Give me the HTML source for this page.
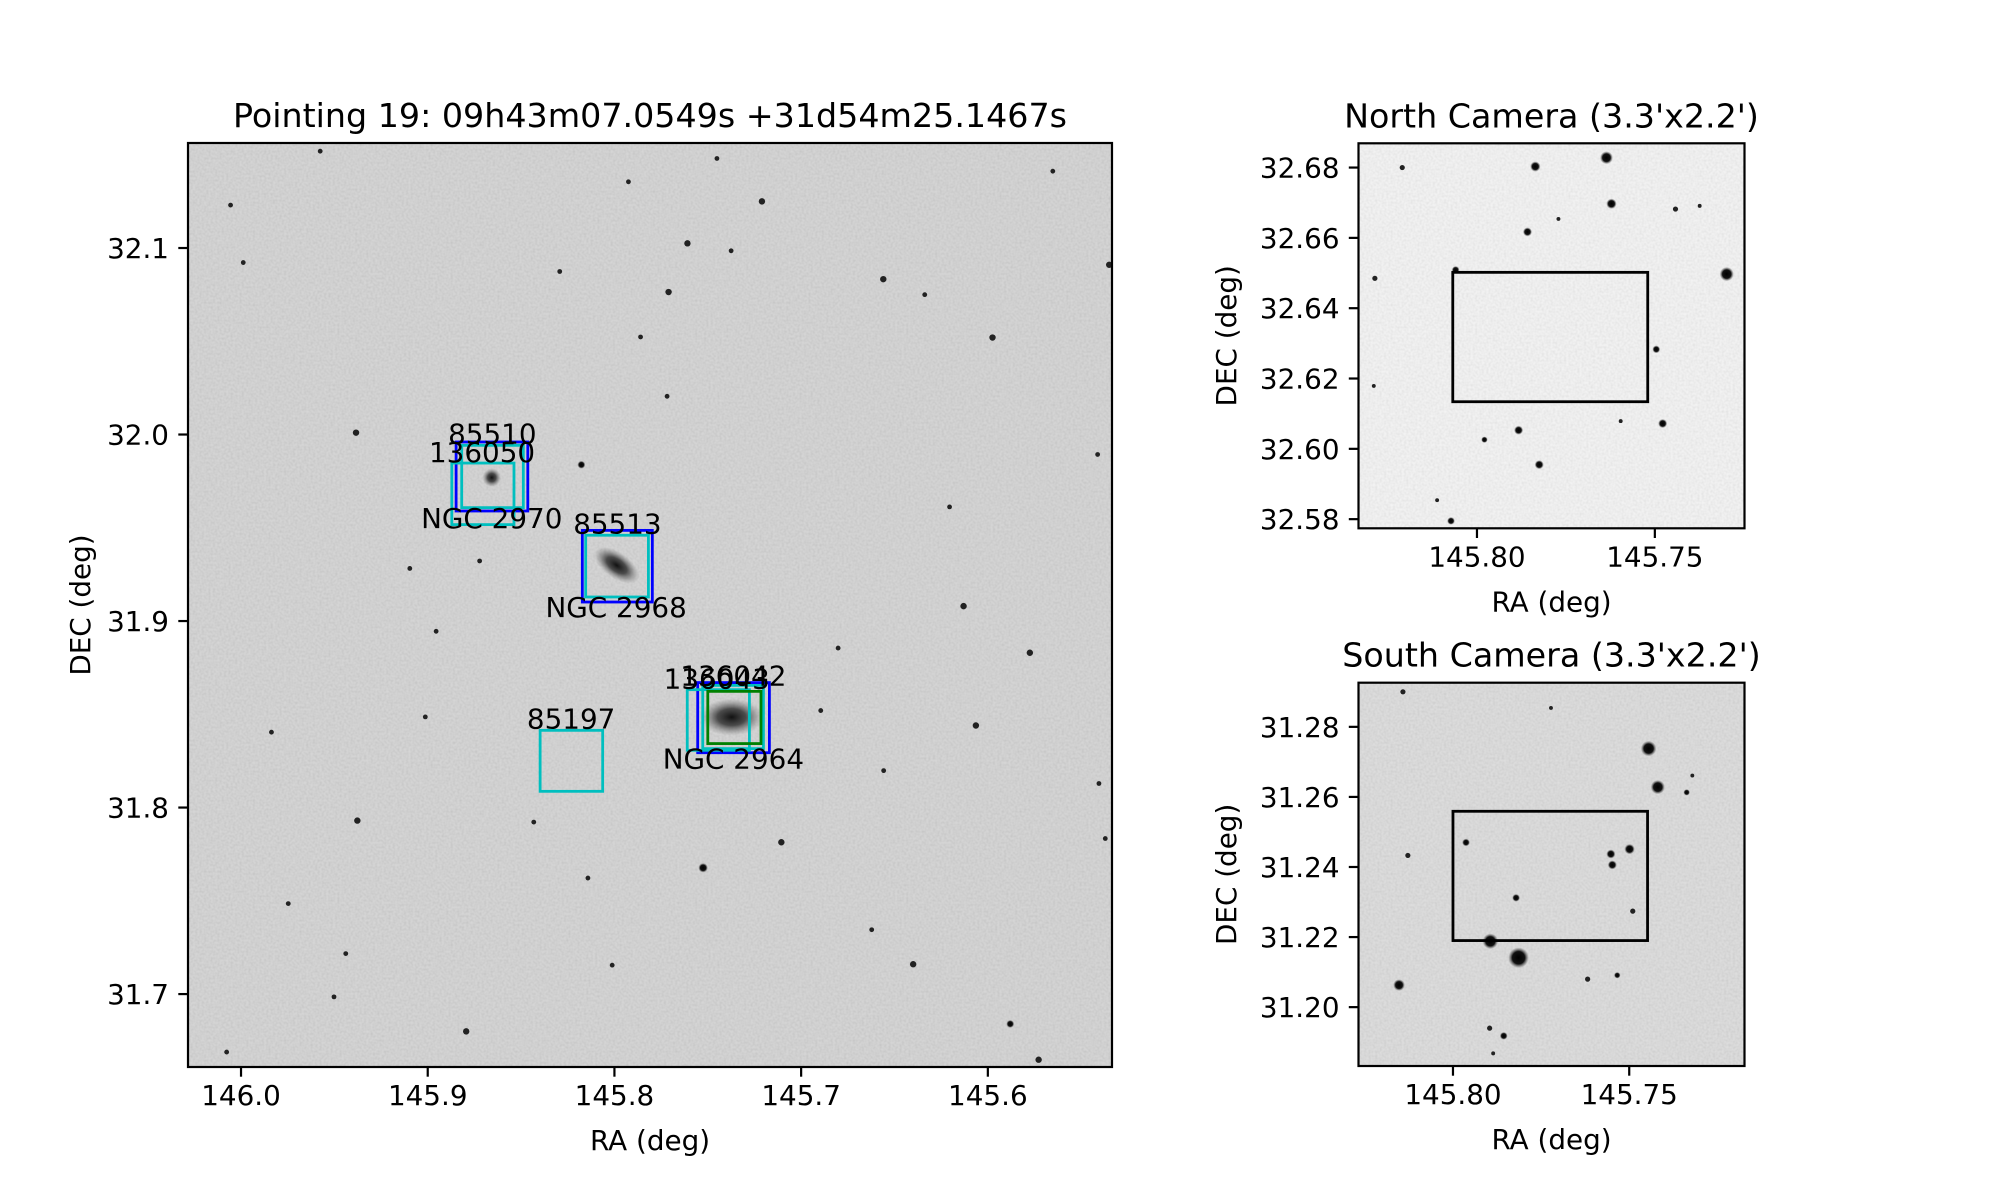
<!DOCTYPE html>
<html><head><meta charset="utf-8"><style>
html,body{margin:0;padding:0;background:#fff;}
svg{display:block;font-family:"DejaVu Sans","Liberation Sans",sans-serif;}
</style></head><body>
<svg id="fig" width="2000" height="1200" viewBox="0 0 2000 1200" xmlns="http://www.w3.org/2000/svg">
<defs>
<filter id="noise" x="0" y="0" width="100%" height="100%">
<feTurbulence type="fractalNoise" baseFrequency="0.45" numOctaves="1" seed="3"/>
<feColorMatrix type="matrix" values="1 0 0 0 0  1 0 0 0 0  1 0 0 0 0  0 0 0 0 0.14"/>
</filter>
<radialGradient id="gal"><stop offset="0" stop-color="#111" stop-opacity="1"/><stop offset="0.45" stop-color="#333" stop-opacity="0.85"/><stop offset="1" stop-color="#777" stop-opacity="0"/></radialGradient>
<radialGradient id="star"><stop offset="0" stop-color="#000"/><stop offset="0.6" stop-color="#111"/><stop offset="1" stop-color="#555" stop-opacity="0"/></radialGradient>
<clipPath id="clipMain"><rect x="188" y="143" width="929" height="924"/></clipPath>
<clipPath id="clipNorth"><rect x="1358.5" y="143.3" width="386" height="385"/></clipPath>
<clipPath id="clipSouth"><rect x="1358.5" y="682.7" width="386" height="383.3"/></clipPath>
</defs>
</svg>
<script>
// ---------- Main panel data ----------
const mainXTicks = [146.0, 145.9, 145.8, 145.7, 145.6];
const mainXTickLabels = ["146.0", "145.9", "145.8", "145.7", "145.6"];
const mainYTicks = [32.1, 32.0, 31.9, 31.8, 31.7];
const mainYTickLabels = ["32.1", "32.0", "31.9", "31.8", "31.7"];
const boxRa1 = [145.8848, 145.8871, 145.8818, 145.8172, 145.8154, 145.7554, 145.761, 145.7527, 145.75, 145.8398];
const boxRa2 = [145.8464, 145.8538, 145.8488, 145.7797, 145.7818, 145.717, 145.7277, 145.7202, 145.7215, 145.8063];
const boxDec1 = [31.996, 31.9847, 31.9942, 31.9486, 31.946, 31.867, 31.8632, 31.8655, 31.8623, 31.8414];
const boxDec2 = [31.959, 31.9517, 31.9608, 31.9102, 31.9129, 31.8294, 31.8307, 31.8316, 31.8343, 31.8087];
const boxColors = ["#0000ff", "#00bfbf", "#00bfbf", "#0000ff", "#00bfbf", "#0000ff", "#00bfbf", "#00bfbf", "#008000", "#00bfbf"];
const labelRa = [145.8654, 145.8709, 145.8657, 145.7984, 145.7991, 145.7363, 145.7452, 145.7363, 145.8232];
const labelDec = [31.9951, 31.9853, 31.95, 31.9469, 31.9022, 31.8655, 31.8638, 31.8209, 31.8423];
const labelText = ["85510", "136050", "NGC 2970", "85513", "NGC 2968", "136042", "136043", "NGC 2964", "85197"];
const galRa = [145.7988, 145.7372, 145.8657];
const galDec = [31.9299, 31.8485, 31.9769];
const galMajor = [0.014, 0.017, 0.005];
const galMinor = [0.007, 0.010, 0.005];
const galAngle = [35, 0, 0];
const mainStarRa = [145.7525,145.640,145.588,145.6064,145.613,145.535,145.8177,145.9377,145.5775,145.721,145.9384,145.8794,145.5975,145.656,145.771,145.7609,145.7106,145.5728,146.0056,145.9988,145.9576,145.9837,145.9747,145.9096,145.9013,145.8293,145.786,145.6338,145.5412,145.5371,145.5405,146.0077,145.9439,145.8142,145.6558,145.6895,145.7451,145.7375,145.7925,145.8012,145.8955,145.9502,145.6205,145.6622,145.7205,145.5652,145.8722,145.8432,145.6802,145.7718];
const mainStarDec = [31.7677,31.716,31.684,31.844,31.908,32.091,31.9838,31.793,31.883,32.125,32.001,31.68,32.052,32.0833,32.0764,32.1025,31.7814,31.6648,32.123,32.0922,32.1519,31.8404,31.7485,31.9282,31.8486,32.0874,32.0523,32.075,31.9893,31.7834,31.8129,31.6689,31.7217,31.7622,31.8198,31.852,32.148,32.0985,32.1355,31.7155,31.8945,31.6985,31.9612,31.7345,31.6425,32.1412,31.9322,31.7922,31.8855,32.0205];
const mainStarMag = [3,2,2.5,2,2,2,2.5,2,2,2,2,2,2,2,2,2,2,2,1.5,1.5,1.5,1.5,1.5,1.5,1.5,1.5,1.5,1.5,1.5,1.5,1.5,1.5,1.5,1.5,1.5,1.5,1.5,1.5,1.5,1.5,1.5,1.5,1.5,1.5,1.5,1.5,1.5,1.5,1.5,1.5];

// ---------- North camera data ----------
const northXTicks = [145.80, 145.75];
const northXTickLabels = ["145.80", "145.75"];
const northYTicks = [32.68, 32.66, 32.64, 32.62, 32.60, 32.58];
const northYTickLabels = ["32.68", "32.66", "32.64", "32.62", "32.60", "32.58"];
const northRect = [145.8068, 145.752, 32.6502, 32.6134];
const northStarRa = [145.7836,145.7636,145.7622,145.7298,145.7858,145.7883,145.7825,145.7478,145.7496,145.7979,145.821,145.8073,145.806,145.8287,145.7442,145.7374,145.7771,145.8112,145.7596,145.829];
const northStarDec = [32.6803,32.6828,32.6697,32.6497,32.6617,32.6053,32.5955,32.6072,32.6283,32.6026,32.68,32.5795,32.6509,32.6485,32.6682,32.6691,32.6654,32.5854,32.6079,32.6179];
const northStarMag = [4,5,4,5.5,3.5,3.5,3.5,3.5,3,2.5,2,3,3,2,2,1.5,1.5,1.5,1.5,1.5];

// ---------- South camera data ----------
const southXTicks = [145.80, 145.75];
const southXTickLabels = ["145.80", "145.75"];
const southYTicks = [31.28, 31.26, 31.24, 31.22, 31.20];
const southYTickLabels = ["31.28", "31.26", "31.24", "31.22", "31.20"];
const southRect = [145.80, 145.7448, 31.2559, 31.219];
const southStarRa = [145.7445,145.7419,145.7894,145.7814,145.8153,145.7963,145.7552,145.7548,145.7499,145.7821,145.7856,145.7337,145.7534,145.8142,145.8128,145.7618,145.7896,145.749,145.7722,145.7321,145.7886];
const southStarDec = [31.2738,31.2628,31.2188,31.2141,31.2063,31.247,31.2437,31.2406,31.2451,31.2312,31.1918,31.2613,31.2091,31.29,31.2433,31.208,31.194,31.2274,31.2854,31.2661,31.1868];
const southStarMag = [6,5.5,6,8,4.5,3,3.5,3.5,4,3,3,2.5,2.5,2,2,2,2,2,1.5,1.5,1.5];

const NS = "http://www.w3.org/2000/svg";
const fig = document.getElementById("fig");
function el(tag, attrs, parent, text) {
  const e = document.createElementNS(NS, tag);
  for (const k in attrs) e.setAttribute(k, attrs[k]);
  if (text !== undefined) e.textContent = text;
  (parent || fig).appendChild(e);
  return e;
}
function lin(d0, d1, p0, p1) { return v => p0 + (v - d0) * (p1 - p0) / (d1 - d0); }

function makePanel(cfg) {
  const g = el("g", {});
  
  
  const x = lin(cfg.ra0, cfg.ra1, cfg.left, cfg.right);
  const y = lin(cfg.dec0, cfg.dec1, cfg.top, cfg.bottom);
  const w = cfg.right - cfg.left, h = cfg.bottom - cfg.top;
  const bg = el("rect", {x: cfg.left, y: cfg.top, width: w, height: h, fill: cfg.bg}, g);
  
  
  el("rect", {x: cfg.left, y: cfg.top, width: w, height: h, filter: "url(#noise)"}, g);
  const img = el("g", {"clip-path": "url(#" + cfg.clip + ")"}, g);
  for (let i = 0; i < cfg.starRa.length; i++) {
    const s = el("circle", {cx: x(cfg.starRa[i]), cy: y(cfg.starDec[i]), r: cfg.starMag[i] * cfg.starScale, fill: cfg.starMag[i] > 2.2 ? "url(#star)" : "#222"}, img);
    
    
  }
  return {g, x, y, img};
}

function axesDecor(p, cfg) {
  const g = p.g;
  for (let i = 0; i < cfg.xt.length; i++) {
    const tx = p.x(cfg.xt[i]);
    el("line", {x1: tx, x2: tx, y1: cfg.bottom, y2: cfg.bottom + 9.7, stroke: "#000", "stroke-width": 2.2}, g);
    const t = el("text", {x: tx, y: cfg.bottom + 38, "text-anchor": "middle", "font-size": 27.8}, g, cfg.xtl[i]);
    
    
  }
  for (let i = 0; i < cfg.yt.length; i++) {
    const ty = p.y(cfg.yt[i]);
    el("line", {x1: cfg.left - 9.7, x2: cfg.left, y1: ty, y2: ty, stroke: "#000", "stroke-width": 2.2}, g);
    const t = el("text", {x: cfg.left - 19, y: ty + 10, "text-anchor": "end", "font-size": 27.8}, g, cfg.ytl[i]);
    
    
  }
  const fr = el("rect", {x: cfg.left, y: cfg.top, width: cfg.right - cfg.left, height: cfg.bottom - cfg.top, fill: "none", stroke: "#000", "stroke-width": 2.2}, g);
  
  
  const tt = el("text", {x: (cfg.left + cfg.right) / 2, y: cfg.top - 16, "text-anchor": "middle", "font-size": 33.3}, g, cfg.title);
  
  
  const xl = el("text", {x: (cfg.left + cfg.right) / 2, y: cfg.bottom + 83, "text-anchor": "middle", "font-size": 27.8}, g, "RA (deg)");
  
  
  const cy = (cfg.top + cfg.bottom) / 2;
  const yl = el("text", {x: cfg.ylx, y: cy, "text-anchor": "middle", "font-size": 27.8, transform: "rotate(-90 " + cfg.ylx + " " + cy + ")"}, g, "DEC (deg)");
  
  
}

const mainCfg = {name: "pointing-panel", ra0: 146.0284, ra1: 145.5335, dec0: 32.1563, dec1: 31.6609, left: 188, right: 1112, top: 143, bottom: 1067, bg: "#d3d3d3", clip: "clipMain",
  starRa: mainStarRa, starDec: mainStarDec, starMag: mainStarMag, starScale: 1.6,
  xt: mainXTicks, xtl: mainXTickLabels, yt: mainYTicks, ytl: mainYTickLabels, title: "Pointing 19: 09h43m07.0549s +31d54m25.1467s", ylx: 90};
const mp = makePanel(mainCfg);
for (let i = 0; i < galRa.length; i++) {
  const cx = mp.x(galRa[i]), cy = mp.y(galDec[i]);
  const rx = Math.abs(mp.x(galRa[i] + galMajor[i]) - cx), ry = Math.abs(mp.y(galDec[i] + galMinor[i]) - cy);
  const e = el("ellipse", {cx: cx, cy: cy, rx: rx, ry: ry, fill: "url(#gal)", transform: "rotate(" + galAngle[i] + " " + cx + " " + cy + ")"}, mp.img);
  
  
}
for (let i = 0; i < boxRa1.length; i++) {
  const x1 = mp.x(boxRa1[i]), x2 = mp.x(boxRa2[i]), y1 = mp.y(boxDec1[i]), y2 = mp.y(boxDec2[i]);
  const r = el("rect", {x: Math.min(x1, x2), y: Math.min(y1, y2), width: Math.abs(x2 - x1), height: Math.abs(y2 - y1), fill: "none", stroke: boxColors[i], "stroke-width": 2.8}, mp.g);
  
  
}
for (let i = 0; i < labelText.length; i++) {
  const t = el("text", {x: mp.x(labelRa[i]), y: mp.y(labelDec[i]), "text-anchor": "middle", "font-size": 27.8}, mp.g, labelText[i]);
  
  
}
axesDecor(mp, mainCfg);

const northCfg = {name: "north-camera-panel", ra0: 145.8333, ra1: 145.7248, dec0: 32.6869, dec1: 32.5774, left: 1358.5, right: 1744.5, top: 143.3, bottom: 528.3, bg: "#f5f5f5", clip: "clipNorth",
  starRa: northStarRa, starDec: northStarDec, starMag: northStarMag, starScale: 1.3,
  xt: northXTicks, xtl: northXTickLabels, yt: northYTicks, ytl: northYTickLabels, title: "North Camera (3.3'x2.2')", ylx: 1236};
const np = makePanel(northCfg);
{
  const x1 = np.x(northRect[0]), x2 = np.x(northRect[1]), y1 = np.y(northRect[2]), y2 = np.y(northRect[3]);
  const r = el("rect", {x: x1, y: y1, width: x2 - x1, height: y2 - y1, fill: "none", stroke: "#000", "stroke-width": 2.8}, np.g);
  
  
}
axesDecor(np, northCfg);

const southCfg = {name: "south-camera-panel", ra0: 145.8268, ra1: 145.7173, dec0: 31.2926, dec1: 31.1832, left: 1358.5, right: 1744.5, top: 682.7, bottom: 1066, bg: "#dcdcdc", clip: "clipSouth",
  starRa: southStarRa, starDec: southStarDec, starMag: southStarMag, starScale: 1.3,
  xt: southXTicks, xtl: southXTickLabels, yt: southYTicks, ytl: southYTickLabels, title: "South Camera (3.3'x2.2')", ylx: 1236};
const sp = makePanel(southCfg);
{
  const x1 = sp.x(southRect[0]), x2 = sp.x(southRect[1]), y1 = sp.y(southRect[2]), y2 = sp.y(southRect[3]);
  const r = el("rect", {x: x1, y: y1, width: x2 - x1, height: y2 - y1, fill: "none", stroke: "#000", "stroke-width": 2.8}, sp.g);
  
  
}
axesDecor(sp, southCfg);
</script>
</body></html>
